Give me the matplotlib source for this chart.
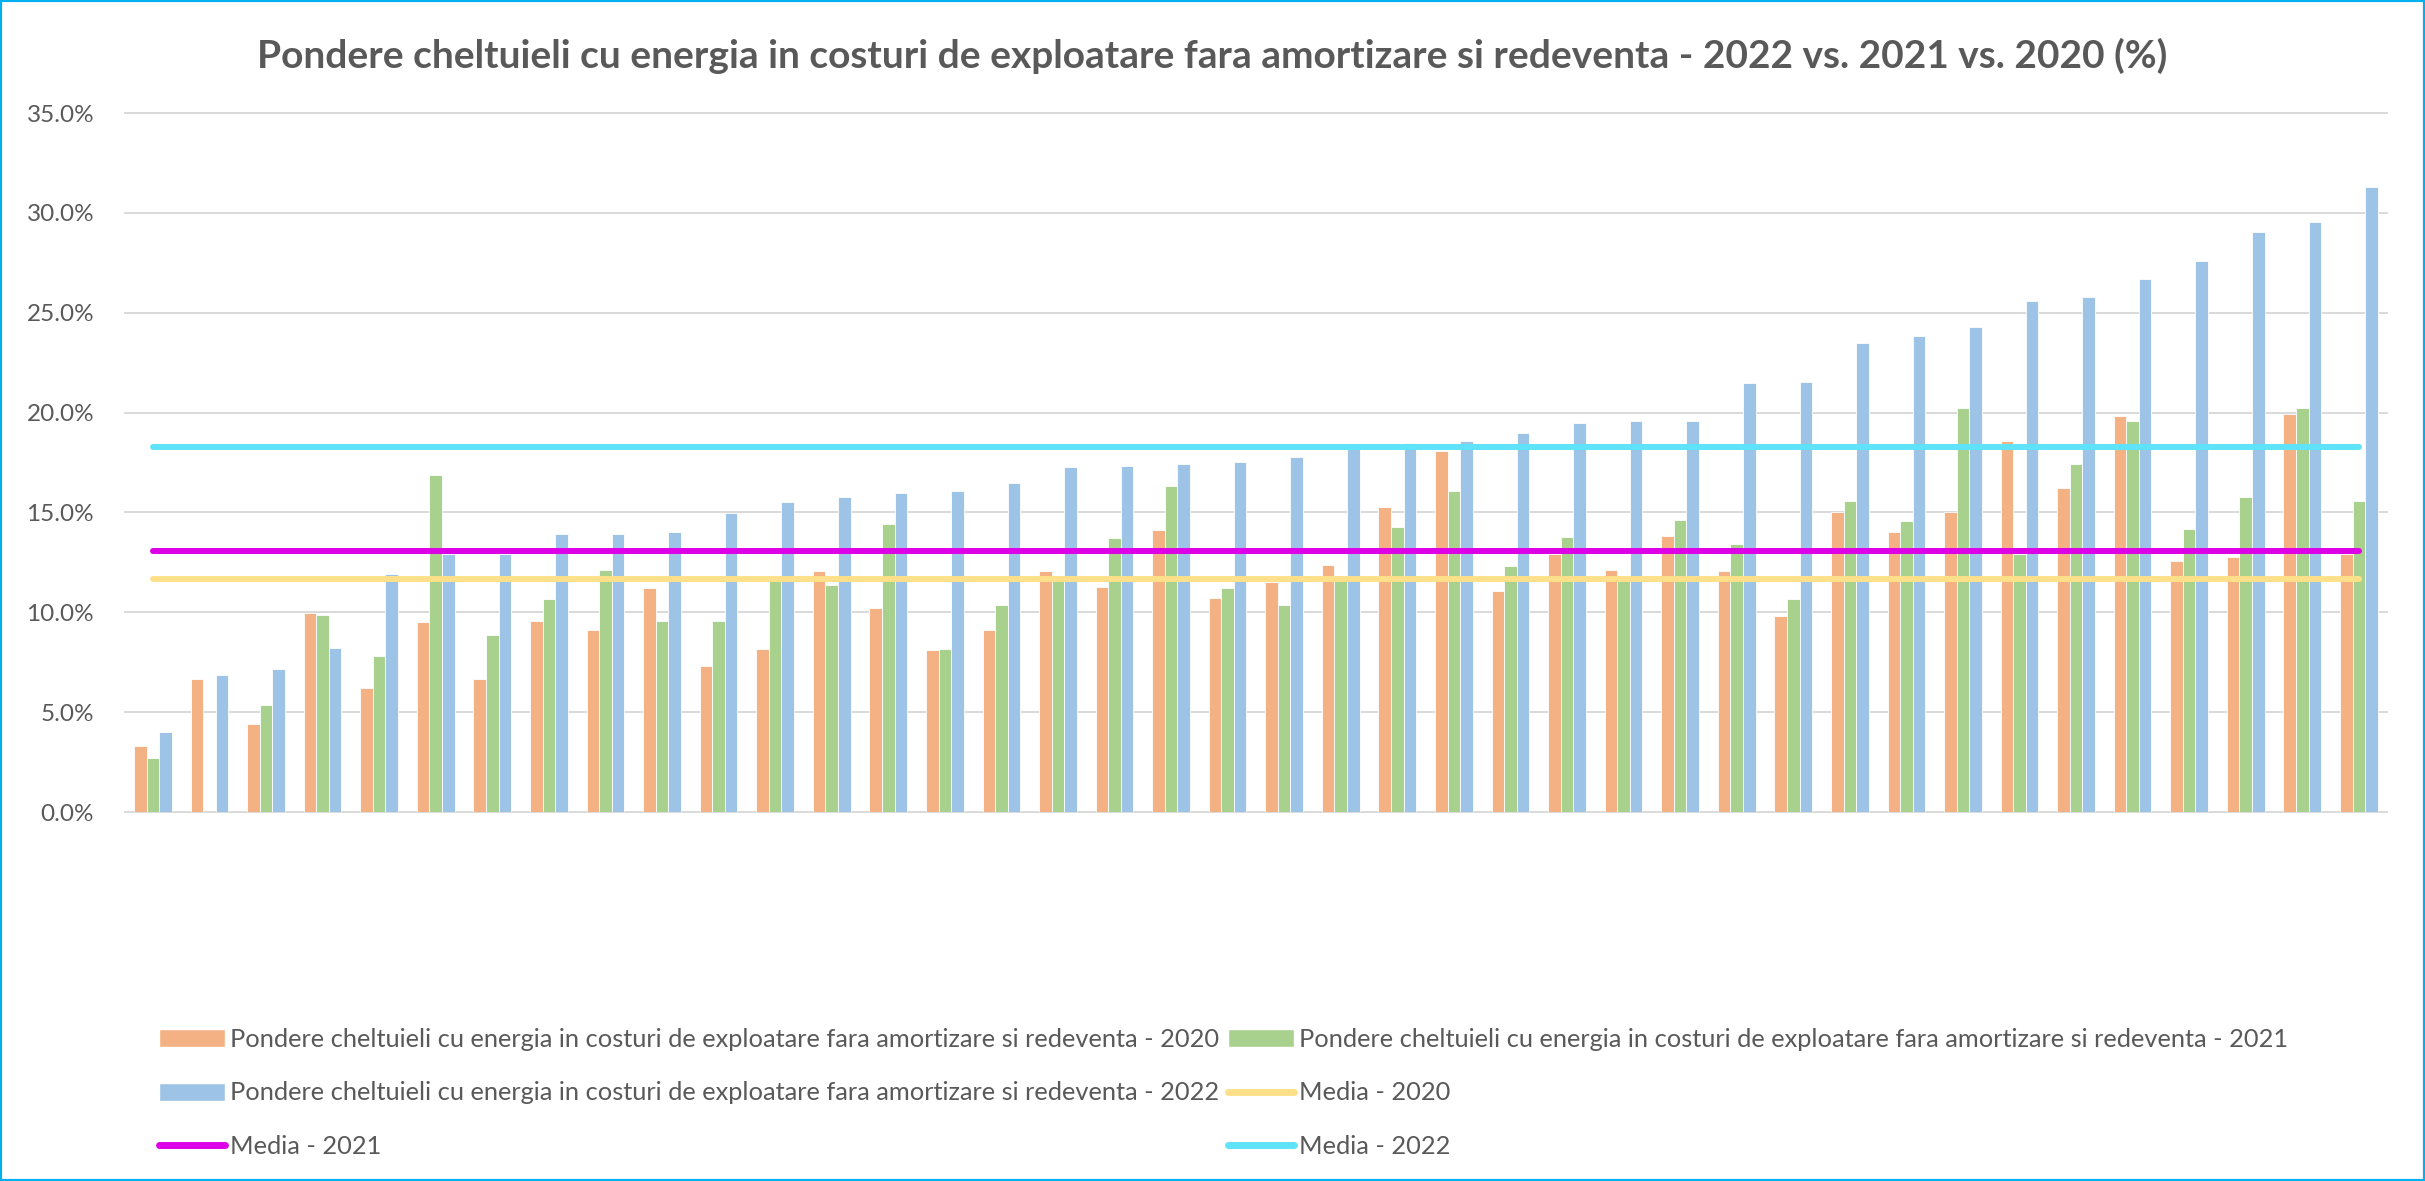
import numpy as np
import matplotlib
matplotlib.use("Agg")
import matplotlib.pyplot as plt
from matplotlib.patches import Rectangle, Patch
from matplotlib.lines import Line2D

plt.rcParams['font.family'] = ['Lato', 'DejaVu Sans']

# valori (%)
pondere_2020 = [3.3, 6.65, 4.4, 9.95, 6.2, 9.5, 6.65, 9.55, 9.1, 11.2,
                7.3, 8.15, 12.05, 10.2, 8.1, 9.1, 12.05, 11.25, 14.1, 10.7,
                11.5, 12.35, 15.25, 18.1, 11.05, 12.9, 12.1, 13.8, 12.05, 9.8,
                15.0, 14.0, 15.0, 18.6, 16.25, 19.85, 12.55, 12.75, 19.95, 12.9]
pondere_2021 = [2.7, 0.0, 5.35, 9.85, 7.8, 16.9, 8.85, 10.65, 12.1, 9.55,
                9.55, 11.55, 11.35, 14.4, 8.15, 10.35, 11.6, 13.7, 16.35, 11.2,
                10.35, 11.6, 14.25, 16.1, 12.3, 13.75, 11.6, 14.6, 13.4, 10.65,
                15.55, 14.55, 20.25, 12.9, 17.45, 19.6, 14.15, 15.75, 20.25, 15.55]
pondere_2022 = [4.0, 6.85, 7.15, 8.2, 11.9, 12.9, 12.9, 13.9, 13.9, 14.0,
                14.95, 15.5, 15.75, 15.95, 16.05, 16.5, 17.3, 17.35, 17.45, 17.55,
                17.8, 18.2, 18.5, 18.6, 19.0, 19.5, 19.6, 19.6, 21.5, 21.55,
                23.5, 23.85, 24.3, 25.6, 25.8, 26.7, 27.6, 29.05, 29.55, 31.3]
media_2020 = 11.65
media_2021 = 13.05
media_2022 = 18.3
y_ticks = [0, 5, 10, 15, 20, 25, 30, 35]

lbl = "Pondere cheltuieli cu energia in costuri de exploatare fara amortizare si redeventa - "
titlu = "Pondere cheltuieli cu energia in costuri de exploatare fara amortizare si redeventa - 2022 vs. 2021 vs. 2020 (%)"

c_text = '#595959'
c20, c21, c22 = '#F4B183', '#A9D18E', '#9DC3E6'
cm20, cm21, cm22 = '#FFE08A', '#DD00E6', '#5EE3FB'

fig = plt.figure(figsize=(24.25, 11.81), dpi=100)
ax = fig.add_axes([0.0514, 0.3124, 0.933, 0.5919])

x = np.arange(len(pondere_2022))
w = 0.222
ax.bar(x - w, pondere_2020, w, color=c20, edgecolor='white', linewidth=0.6, zorder=2)
ax.bar(x, pondere_2021, w, color=c21, edgecolor='white', linewidth=0.6, zorder=2)
ax.bar(x + w, pondere_2022, w, color=c22, edgecolor='white', linewidth=0.6, zorder=2)

lw_m = 4.3
ax.plot(x, [media_2020] * len(x), color=cm20, lw=lw_m, solid_capstyle='round', zorder=3)
ax.plot(x, [media_2021] * len(x), color=cm21, lw=lw_m, solid_capstyle='round', zorder=3)
ax.plot(x, [media_2022] * len(x), color=cm22, lw=lw_m, solid_capstyle='round', zorder=3)

ax.set_xlim(-0.5, len(x) - 0.5)
ax.set_ylim(0, 35)
ax.set_yticks(y_ticks)
ax.set_yticklabels([f"{v:.1f}%" for v in y_ticks], color=c_text, fontsize=17.5)
ax.set_xticks([])
ax.tick_params(axis='y', length=0, pad=22)
for s in ax.spines.values():
    s.set_visible(False)
for v in y_ticks:
    ax.axhline(v, color='#D9D9D9', lw=1.4, zorder=1, clip_on=False)

fig.text(0.5, 1 - 56 / 1181, titlu, ha='center', va='center',
         fontsize=28, fontweight='bold', color=c_text)

# legenda: ordinea pe coloane pentru a obtine ordinea pe randuri din original
h20 = Patch(facecolor=c20, edgecolor='white', label=lbl + "2020")
h21 = Patch(facecolor=c21, edgecolor='white', label=lbl + "2021")
h22 = Patch(facecolor=c22, edgecolor='white', label=lbl + "2022")
l20 = Line2D([], [], color=cm20, lw=5, solid_capstyle='round', label="Media - 2020")
l21 = Line2D([], [], color=cm21, lw=5, solid_capstyle='round', label="Media - 2021")
l22 = Line2D([], [], color=cm22, lw=5, solid_capstyle='round', label="Media - 2022")
leg = fig.legend(handles=[h20, h22, l21, h21, l20, l22], ncol=2, frameon=False,
                 loc='upper left', bbox_to_anchor=(159 / 2425, 1 - 1028 / 1181),
                 fontsize=18.3, handlelength=2.6, handletextpad=0.2,
                 columnspacing=0.35, labelspacing=1.2, borderpad=0, borderaxespad=0)
for t in leg.get_texts():
    t.set_color(c_text)

fig.patches.append(Rectangle((0, 0), 1, 1, transform=fig.transFigure, fill=False,
                             edgecolor='#00B0F0', lw=3, zorder=10))

fig.savefig("out.png", dpi=100)
